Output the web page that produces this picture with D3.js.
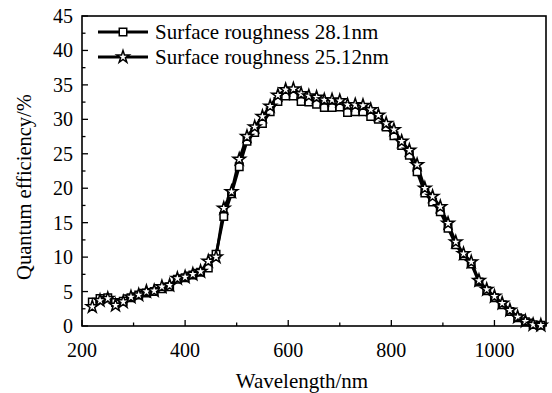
<!DOCTYPE html>
<html><head><meta charset="utf-8">
<script src="https://cdn.jsdelivr.net/npm/d3@7"></script>
<style>body{margin:0;background:#fff}svg{display:block}text{font-family:"Liberation Serif","Times New Roman",serif;fill:#000}</style>
</head><body>
<svg id="c" width="552" height="393"></svg>
<script>
const wavelengths = [220,235,250,265,280,295,310,325,340,355,370,385,400,415,430,445,460,475,490,505,520,535,550,565,580,595,610,625,640,655,670,685,700,715,730,745,760,775,790,805,820,835,850,865,880,895,910,925,940,955,970,985,1000,1015,1030,1045,1060,1075,1090];
const qe281 = [3.5,4.0,4.1,3.4,3.6,4.1,4.5,4.8,5.0,5.4,5.7,6.8,7.0,7.4,7.8,8.4,10.4,15.9,19.2,23.1,26.8,28.1,29.4,31.1,32.6,33.4,33.4,32.6,32.5,32.2,31.7,31.7,31.8,31.0,31.1,31.1,30.4,30.0,28.9,27.6,26.2,24.8,22.4,19.3,18.0,16.6,14.2,11.8,10.2,9.0,6.4,5.1,4.1,3.1,2.1,1.2,0.6,0.2,0.1];
const qe2512 = [2.8,3.7,4.0,3.0,3.5,4.2,4.5,5.0,5.1,5.7,5.9,6.9,7.1,7.5,7.9,9.4,10.0,17.1,19.5,24.2,27.5,28.9,30.4,31.9,33.5,34.3,34.4,33.7,33.4,33.2,32.8,32.8,32.7,32.1,32.1,32.0,31.4,30.6,29.4,28.5,26.8,25.5,23.4,20.0,18.8,17.3,14.9,12.2,10.5,9.3,6.6,5.3,4.3,3.3,2.3,1.3,0.7,0.2,0.1];
const seriesNames = ["Surface roughness 28.1nm","Surface roughness 25.12nm"];
const xTicks = [200,400,600,800,1000];
const xMinor = [300,500,700,900,1100];
const yTicks = [0,5,10,15,20,25,30,35,40,45];
const yMinor = [2.5,7.5,12.5,17.5,22.5,27.5,32.5,37.5,42.5];

const L=82,R=546,T=16,B=326;
const svg=d3.select("#c");
const x=d3.scaleLinear().domain([200,1100]).range([L,R]);
const y=d3.scaleLinear().domain([0,45]).range([B,T]);

const g=svg.append("g").attr("stroke","#000").attr("stroke-width",1.3);
xTicks.forEach(v=>g.append("line").attr("x1",x(v)).attr("x2",x(v)).attr("y1",B).attr("y2",B-6));
xMinor.forEach(v=>g.append("line").attr("x1",x(v)).attr("x2",x(v)).attr("y1",B).attr("y2",B-3.5));
yTicks.forEach(v=>g.append("line").attr("x1",L).attr("x2",L+6).attr("y1",y(v)).attr("y2",y(v)));
yMinor.forEach(v=>g.append("line").attr("x1",L).attr("x2",L+3.5).attr("y1",y(v)).attr("y2",y(v)));

svg.append("rect").attr("x",L).attr("y",T).attr("width",R-L).attr("height",B-T)
  .attr("fill","none").attr("stroke","#000").attr("stroke-width",1.6);

xTicks.forEach(v=>svg.append("text").attr("x",x(v)).attr("y",357).attr("text-anchor","middle").attr("font-size",20).text(v));
yTicks.forEach(v=>svg.append("text").attr("x",73).attr("y",y(v)+7).attr("text-anchor","end").attr("font-size",20).text(v));

svg.append("text").attr("x",302).attr("y",388).attr("text-anchor","middle").attr("font-size",21).text("Wavelength/nm");
svg.append("text").attr("transform","translate(31,187) rotate(-90)").attr("text-anchor","middle").attr("font-size",20.5).text("Quantum efficiency/%");

const line=d3.line().x(d=>x(d[0])).y(d=>y(d[1]));
const d1=wavelengths.map((w,i)=>[w,qe281[i]]);
const d2=wavelengths.map((w,i)=>[w,qe2512[i]]);
svg.append("path").datum(d1).attr("d",line).attr("fill","none").attr("stroke","#000").attr("stroke-width",2.8);
svg.append("path").datum(d2).attr("d",line).attr("fill","none").attr("stroke","#000").attr("stroke-width",2.8);

const sq=d3.symbol().type(d3.symbolSquare).size(56);
const st=d3.symbol().type(d3.symbolStar).size(48);
svg.append("g").selectAll("path").data(d1).join("path").attr("d",sq)
  .attr("transform",d=>`translate(${x(d[0])},${y(d[1])})`).attr("fill","#fff").attr("stroke","#000").attr("stroke-width",1.5);
svg.append("g").selectAll("path").data(d2).join("path").attr("d",st)
  .attr("transform",d=>`translate(${x(d[0])},${y(d[1])})`).attr("fill","#fff").attr("stroke","#000").attr("stroke-width",1.5);

const ly=[32,57];
seriesNames.forEach((n,i)=>{
  svg.append("line").attr("x1",98).attr("x2",148).attr("y1",ly[i]).attr("y2",ly[i]).attr("stroke","#000").attr("stroke-width",2.8);
  svg.append("path").attr("d",i===0?sq:st).attr("transform",`translate(123,${ly[i]})`).attr("fill","#fff").attr("stroke","#000").attr("stroke-width",1.5);
  svg.append("text").attr("x",155).attr("y",ly[i]+7).attr("font-size",21).text(n);
});
</script>
</body></html>
